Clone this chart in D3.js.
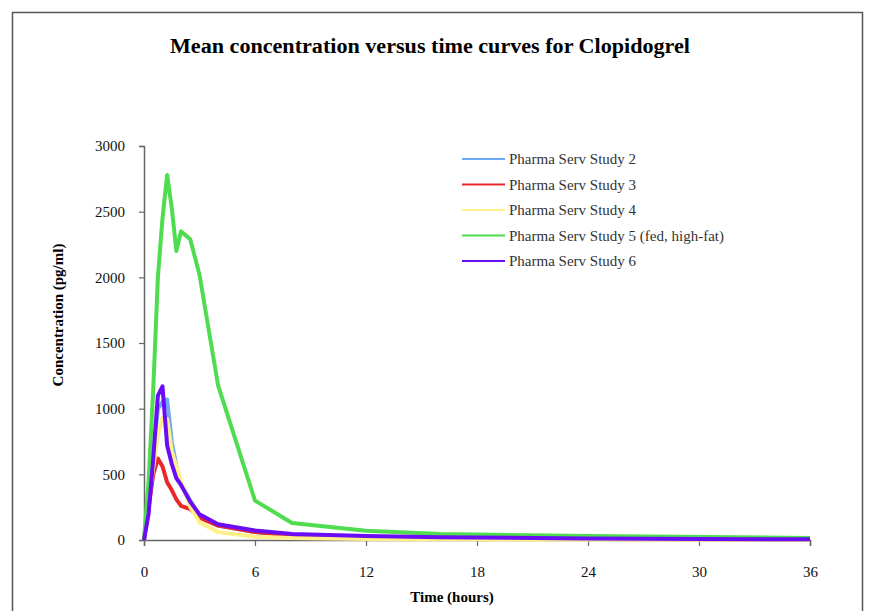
<!DOCTYPE html>
<html>
<head>
<meta charset="utf-8">
<script src="https://cdn.jsdelivr.net/npm/d3@7"></script>
<style>
  body { margin: 0; background: #fff; }
  text { font-family: "Liberation Serif", "Times New Roman", serif; }
</style>
</head>
<body>
<div id="chart"></div>
<script>
// Sampling times (hours)
const times = [0, 0.25, 0.5, 0.75, 1, 1.25, 1.5, 1.75, 2, 2.5, 3, 4, 6, 8, 12, 16, 24, 36];

// Mean concentrations (pg/ml)
const study2 = [0, 300, 650, 1000, 1050, 1070, 750, 560, 420, 300, 185, 110, 60, 35, 20, 12, 8, 3];
const study3 = [0, 250, 500, 620, 560, 440, 380, 310, 260, 235, 170, 110, 60, 35, 20, 12, 8, 4];
const study4 = [0, 300, 550, 800, 930, 920, 680, 560, 450, 250, 135, 60, 25, 15, 8, 5, 3, 1];
const study5 = [0, 450, 1150, 2000, 2450, 2780, 2530, 2200, 2350, 2290, 2020, 1180, 300, 130, 70, 45, 30, 15];
const study6 = [0, 200, 620, 1100, 1170, 720, 580, 470, 420, 290, 195, 120, 72, 45, 30, 20, 12, 5];

const seriesNames = ['Pharma Serv Study 2', 'Pharma Serv Study 3', 'Pharma Serv Study 4',
    'Pharma Serv Study 5 (fed, high-fat)', 'Pharma Serv Study 6'];
const seriesValues = [study2, study3, study4, study5, study6];
const seriesColors = ['#70aaf5', '#e8282a', '#fff08a', '#4fdc4f', '#6a0cf5'];

const xTicks = [0, 6, 12, 18, 24, 30, 36];
const yTicks = [0, 500, 1000, 1500, 2000, 2500, 3000];

const width = 869;
const height = 611;
const margin = { top: 146, right: 59, bottom: 71, left: 144 };

const svg = d3.select('#chart').append('svg')
    .attr('width', width)
    .attr('height', height);

// outer frame
svg.append('rect')
    .attr('x', 12.5)
    .attr('y', 12.5)
    .attr('width', 850)
    .attr('height', 620)
    .attr('fill', 'none')
    .attr('stroke', '#555')
    .attr('stroke-width', 1.5);

const xScale = d3.scaleLinear()
    .domain([0, 36])
    .range([margin.left, width - margin.right]);

const yScale = d3.scaleLinear()
    .domain([0, 3000])
    .range([height - margin.bottom, margin.top]);

// Title
svg.append('text')
    .attr('x', 430)
    .attr('y', 53)
    .attr('text-anchor', 'middle')
    .attr('textLength', 520)
    .attr('lengthAdjust', 'spacingAndGlyphs')
    .style('font-size', '20px')
    .style('font-weight', 'bold')
    .text('Mean concentration versus time curves for Clopidogrel');

// Axes
const xAxis = d3.axisBottom(xScale).tickValues(xTicks).tickSize(6).tickPadding(20);
const yAxis = d3.axisLeft(yScale).tickValues(yTicks).tickSize(5).tickPadding(14)
    .tickFormat(d3.format('d'));

const gx = svg.append('g')
    .attr('transform', `translate(0, ${height - margin.bottom})`)
    .call(xAxis);

const gy = svg.append('g')
    .attr('transform', `translate(${margin.left}, 0)`)
    .call(yAxis);

[gx, gy].forEach(g => {
    g.select('.domain').attr('stroke', '#666').attr('stroke-width', 1.5);
    g.selectAll('.tick line').attr('stroke', '#666').attr('stroke-width', 1.2);
    g.selectAll('.tick text')
        .attr('fill', '#111')
        .style('font-family', '"Liberation Serif", serif')
        .style('font-size', '15px');
});

// Axis titles
svg.append('text')
    .attr('x', 452)
    .attr('y', 602)
    .attr('text-anchor', 'middle')
    .style('font-size', '15px')
    .style('font-weight', 'bold')
    .text('Time (hours)');

svg.append('text')
    .attr('transform', 'rotate(-90)')
    .attr('x', -315)
    .attr('y', 63)
    .attr('text-anchor', 'middle')
    .style('font-size', '15px')
    .style('font-weight', 'bold')
    .text('Concentration (pg/ml)');

// Lines
const line = d3.line()
    .x((d, i) => xScale(times[i]))
    .y(d => yScale(d));

svg.selectAll('.series')
    .data(seriesValues)
    .enter().append('path')
    .attr('class', 'series')
    .attr('d', line)
    .attr('fill', 'none')
    .attr('stroke', (d, i) => seriesColors[i])
    .attr('stroke-width', 4)
    .attr('stroke-linejoin', 'round');

// Legend
const legend = svg.append('g')
    .attr('transform', 'translate(462, 159)');

const items = legend.selectAll('g')
    .data(seriesNames)
    .enter().append('g')
    .attr('transform', (d, i) => `translate(0, ${i * 25.5})`);

items.append('line')
    .attr('x1', 0)
    .attr('x2', 43)
    .attr('y1', 0)
    .attr('y2', 0)
    .attr('stroke', (d, i) => seriesColors[i])
    .attr('stroke-width', 2);

items.append('text')
    .attr('x', 47)
    .attr('y', 5)
    .attr('fill', '#333')
    .style('font-size', '15px')
    .text(d => d);
</script>
</body>
</html>
